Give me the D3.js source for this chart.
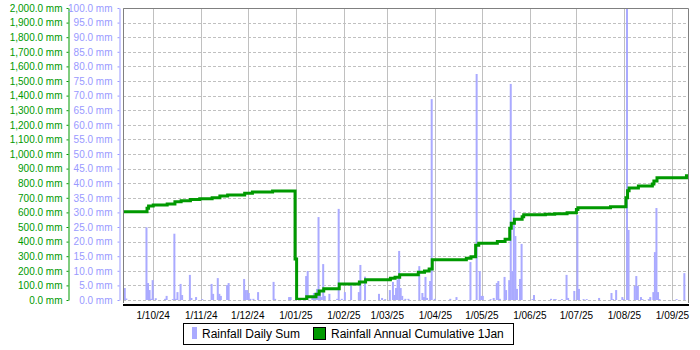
<!DOCTYPE html>
<html>
<head>
<meta charset="utf-8">
<script src="https://cdn.jsdelivr.net/npm/d3@7"></script>
<style>
  body { margin: 0; background: #fff; }
  text { font-family: "Liberation Sans", Arial, sans-serif; }
</style>
</head>
<body>
<div id="chart"></div>
<script>
// daily rainfall (mm), days not listed had none
const dailySum = [
  ["2024-09-12", 4.1], ["2024-09-13", 0.5], ["2024-09-26", 24.9], ["2024-09-27", 5.8], ["2024-09-28", 3.4],
  ["2024-09-29", 0.4], ["2024-09-30", 6.8], ["2024-10-02", 0.6], ["2024-10-08", 0.4], ["2024-10-09", 1.4],
  ["2024-10-13", 0.3], ["2024-10-14", 22.7], ["2024-10-15", 0.4], ["2024-10-16", 2.7], ["2024-10-18", 5.5],
  ["2024-10-19", 1.7], ["2024-10-24", 8.6], ["2024-10-25", 0.7], ["2024-10-28", 1.0], ["2024-11-01", 0.3],
  ["2024-11-07", 5.5], ["2024-11-08", 2.1], ["2024-11-11", 7.5], ["2024-11-12", 2.1], ["2024-11-13", 1.4],
  ["2024-11-17", 5.1], ["2024-11-18", 5.8], ["2024-11-28", 7.2], ["2024-11-29", 3.4], ["2024-11-30", 3.4],
  ["2024-12-01", 2.4], ["2024-12-02", 0.4], ["2024-12-04", 0.4], ["2024-12-07", 2.7], ["2024-12-17", 6.2],
  ["2024-12-18", 0.4], ["2024-12-27", 1.0], ["2024-12-28", 1.0],
  ["2025-01-07", 8.2], ["2025-01-08", 9.9], ["2025-01-11", 1.0], ["2025-01-12", 2.4], ["2025-01-13", 1.4],
  ["2025-01-14", 3.8], ["2025-01-15", 28.4], ["2025-01-16", 3.4], ["2025-01-17", 1.0], ["2025-01-18", 12.3],
  ["2025-01-19", 1.4], ["2025-01-22", 2.1], ["2025-01-27", 0.4], ["2025-01-28", 31.2], ["2025-01-30", 0.4],
  ["2025-02-01", 2.7], ["2025-02-05", 5.0], ["2025-02-10", 2.7], ["2025-02-11", 12.0], ["2025-02-14", 8.0],
  ["2025-02-23", 2.1], ["2025-02-25", 0.7], ["2025-02-27", 0.3],
  ["2025-03-02", 3.4], ["2025-03-04", 6.2], ["2025-03-05", 1.7], ["2025-03-06", 4.1], ["2025-03-07", 7.0],
  ["2025-03-08", 16.8], ["2025-03-09", 4.1], ["2025-03-10", 1.4], ["2025-03-12", 0.4], ["2025-03-14", 0.4],
  ["2025-03-21", 11.6], ["2025-03-23", 2.4], ["2025-03-24", 1.0], ["2025-03-25", 7.9], ["2025-03-26", 0.7],
  ["2025-03-28", 6.5], ["2025-03-29", 68.8], ["2025-03-31", 0.4],
  ["2025-04-10", 0.4], ["2025-04-14", 1.0], ["2025-04-23", 13.0], ["2025-04-27", 77.4], ["2025-04-29", 9.9],
  ["2025-04-30", 1.4], ["2025-05-01", 1.4],
  ["2025-05-06", 0.3], ["2025-05-08", 0.7], ["2025-05-10", 5.8], ["2025-05-11", 6.5], ["2025-05-12", 0.4],
  ["2025-05-15", 7.9], ["2025-05-16", 3.4], ["2025-05-18", 6.8], ["2025-05-19", 74.0], ["2025-05-20", 9.9],
  ["2025-05-21", 30.8], ["2025-05-22", 21.9], ["2025-05-23", 3.8], ["2025-05-25", 7.2], ["2025-05-26", 19.2],
  ["2025-06-02", 0.3], ["2025-06-03", 1.7], ["2025-06-14", 0.4], ["2025-06-16", 0.3], ["2025-06-17", 0.3],
  ["2025-06-21", 0.3], ["2025-06-24", 8.6], ["2025-06-25", 0.7], ["2025-06-29", 3.1],
  ["2025-07-01", 29.1], ["2025-07-02", 3.8], ["2025-07-05", 0.3], ["2025-07-07", 0.3], ["2025-07-15", 0.7],
  ["2025-07-23", 2.4], ["2025-07-24", 0.3], ["2025-07-26", 3.4], ["2025-07-30", 1.0], ["2025-07-31", 0.3],
  ["2025-08-02", 104.0], ["2025-08-03", 24.0], ["2025-08-07", 4.8], ["2025-08-08", 8.2], ["2025-08-09", 4.8],
  ["2025-08-11", 1.0], ["2025-08-12", 0.3], ["2025-08-16", 0.3], ["2025-08-17", 1.0], ["2025-08-19", 2.7],
  ["2025-08-20", 16.4], ["2025-08-21", 31.5], ["2025-08-22", 2.7], ["2025-08-23", 0.3],
  ["2025-09-03", 0.3], ["2025-09-08", 9.2]
];

// annual cumulative (mm), resets on 1 Jan
const annualCum = [
  ["2024-09-11T12:00", 605], ["2024-09-27", 628], ["2024-09-28", 644], ["2024-10-01", 651], ["2024-10-10", 658],
  ["2024-10-15", 673], ["2024-10-19", 680], ["2024-10-25", 688], ["2024-10-31", 694], ["2024-11-08", 701],
  ["2024-11-13", 712], ["2024-11-18", 719], ["2024-11-29", 731], ["2024-12-04", 740], ["2024-12-17", 746],
  ["2024-12-31T12:00", 280], ["2025-01-01T12:00", 5], ["2025-01-08", 23], ["2025-01-14", 39], ["2025-01-16", 62],
  ["2025-01-19", 77], ["2025-01-29", 110], ["2025-02-11", 123], ["2025-02-15", 139], ["2025-03-03", 149],
  ["2025-03-06", 155], ["2025-03-09", 173], ["2025-03-21", 190], ["2025-03-25", 199], ["2025-03-28", 212],
  ["2025-03-30", 275], ["2025-04-21", 286], ["2025-04-24", 297], ["2025-04-27", 375], ["2025-04-29", 388],
  ["2025-05-11", 400], ["2025-05-16", 416], ["2025-05-19", 491], ["2025-05-20", 525], ["2025-05-22", 553],
  ["2025-05-27", 571], ["2025-05-28", 584], ["2025-06-11", 587], ["2025-06-17", 591], ["2025-06-25", 598],
  ["2025-07-01", 620], ["2025-07-02", 632], ["2025-07-23", 639], ["2025-08-02", 700], ["2025-08-03", 749],
  ["2025-08-04", 767], ["2025-08-10", 781], ["2025-08-19", 795], ["2025-08-20", 815], ["2025-08-22", 838],
  ["2025-09-10", 851], ["2025-09-11", 851]
];

const monthTicks = ["2024-10-01", "2024-11-01", "2024-12-01", "2025-01-01", "2025-02-01", "2025-03-01",
  "2025-04-01", "2025-05-01", "2025-06-01", "2025-07-01", "2025-08-01", "2025-09-01"];
const cumTicks = [0, 100, 200, 300, 400, 500, 600, 700, 800, 900, 1000, 1100, 1200, 1300, 1400, 1500,
  1600, 1700, 1800, 1900, 2000];
const rainTicks = [0, 5, 10, 15, 20, 25, 30, 35, 40, 45, 50, 55, 60, 65, 70, 75, 80, 85, 90, 95, 100];

const parseDay = d3.timeParse("%Y-%m-%d");
const parseTime = d3.timeParse("%Y-%m-%dT%H:%M");
const toDate = s => s.length > 10 ? parseTime(s) : parseDay(s);

const plot = {left: 123, right: 688, top: 8, bottom: 300};
const green = "#009900", blue = "#9999ff", barBlue = "#aaaaff", grid = "#c0c0c0";

const svg = d3.select("#chart")
  .append("svg")
  .attr("width", 700)
  .attr("height", 350)
  .style("display", "block");

const x = d3.scaleTime()
  .domain([toDate("2024-09-11T12:00"), toDate("2025-09-11")])
  .range([plot.left, plot.right]);
const yRain = d3.scaleLinear().domain([0, 100]).range([plot.bottom, plot.top]);
const yCum = d3.scaleLinear().domain([0, 2000]).range([plot.bottom, plot.top]);

svg.append("defs").append("clipPath").attr("id", "clip")
  .append("rect")
  .attr("x", plot.left).attr("y", plot.top)
  .attr("width", plot.right - plot.left).attr("height", plot.bottom - plot.top);

// horizontal dashed grid
svg.append("g")
  .selectAll("line")
  .data(rainTicks)
  .join("line")
    .attr("x1", plot.left).attr("x2", plot.right)
    .attr("y1", d => Math.round(yRain(d)) + 0.5)
    .attr("y2", d => Math.round(yRain(d)) + 0.5)
    .attr("stroke", grid)
    .attr("stroke-dasharray", "3,2");

// vertical month grid
svg.append("g")
  .selectAll("line")
  .data(monthTicks)
  .join("line")
    .attr("x1", d => Math.round(x(toDate(d))) + 0.5)
    .attr("x2", d => Math.round(x(toDate(d))) + 0.5)
    .attr("y1", plot.top).attr("y2", plot.bottom + 1)
    .attr("stroke", grid);

// daily bars
svg.append("g")
  .attr("clip-path", "url(#clip)")
  .selectAll("rect")
  .data(dailySum)
  .join("rect")
    .attr("x", d => x(toDate(d[0])))
    .attr("y", d => yRain(d[1]))
    .attr("width", 2)
    .attr("height", d => plot.bottom - yRain(d[1]))
    .attr("fill", barBlue);

// cumulative step line
const line = d3.line()
  .x(d => x(toDate(d[0])))
  .y(d => yCum(d[1]))
  .curve(d3.curveStepAfter);

svg.append("path")
  .datum(annualCum)
  .attr("clip-path", "url(#clip)")
  .attr("d", line)
  .attr("fill", "none")
  .attr("stroke", green)
  .attr("stroke-width", 3);

// plot frame
svg.append("path")
  .attr("d", `M${plot.left + 0.5},${plot.bottom + 3}V${plot.top + 0.5}H${plot.right + 0.5}V${plot.bottom + 3}`)
  .attr("fill", "none")
  .attr("stroke", "#808080");

svg.append("line")
  .attr("x1", plot.left).attr("x2", plot.right + 1)
  .attr("y1", 305).attr("y2", 305)
  .attr("stroke", "#000")
  .attr("stroke-width", 2);

// x labels
svg.append("g")
  .selectAll("text")
  .data(monthTicks)
  .join("text")
    .attr("x", d => x(toDate(d)))
    .attr("y", 319)
    .attr("text-anchor", "middle")
    .attr("font-size", 10)
    .attr("fill", "#000")
    .text(d => d3.timeFormat("%-d/%m/%y")(toDate(d)));

// left green axis (cumulative)
const cumAxis = svg.append("g")
  .attr("transform", "translate(68.5,0)")
  .call(d3.axisLeft(yCum)
    .tickValues(cumTicks)
    .tickSize(2)
    .tickSizeOuter(0)
    .tickPadding(4)
    .tickFormat(d => d3.format(",.1f")(d) + " mm"));
cumAxis.selectAll("path, line").attr("stroke", green);
cumAxis.selectAll("text").attr("fill", green).attr("font-size", 10)
  .style("font-family", "'Liberation Sans', Arial, sans-serif");

// blue axis (daily)
const rainAxis = svg.append("g")
  .attr("transform", "translate(119.5,0)")
  .call(d3.axisLeft(yRain)
    .tickValues(rainTicks)
    .tickSize(2)
    .tickSizeOuter(0)
    .tickPadding(5)
    .tickFormat(d => d3.format(".1f")(d) + " mm"));
rainAxis.selectAll("path, line").attr("stroke", blue);
rainAxis.selectAll("text").attr("fill", blue).attr("font-size", 10)
  .style("font-family", "'Liberation Sans', Arial, sans-serif");

// legend
const legend = svg.append("g").attr("font-size", 12);
legend.append("rect")
  .attr("x", 183.5).attr("y", 323.5)
  .attr("width", 330).attr("height", 21)
  .attr("fill", "#fff").attr("stroke", "#000");
legend.append("rect")
  .attr("x", 192).attr("y", 327)
  .attr("width", 5).attr("height", 12)
  .attr("fill", barBlue);
legend.append("text")
  .attr("x", 202).attr("y", 338)
  .text("Rainfall Daily Sum");
legend.append("rect")
  .attr("x", 313.5).attr("y", 327.5)
  .attr("width", 12).attr("height", 12)
  .attr("fill", green).attr("stroke", "#000");
legend.append("text")
  .attr("x", 331).attr("y", 338)
  .text("Rainfall Annual Cumulative 1Jan");
</script>
</body>
</html>
